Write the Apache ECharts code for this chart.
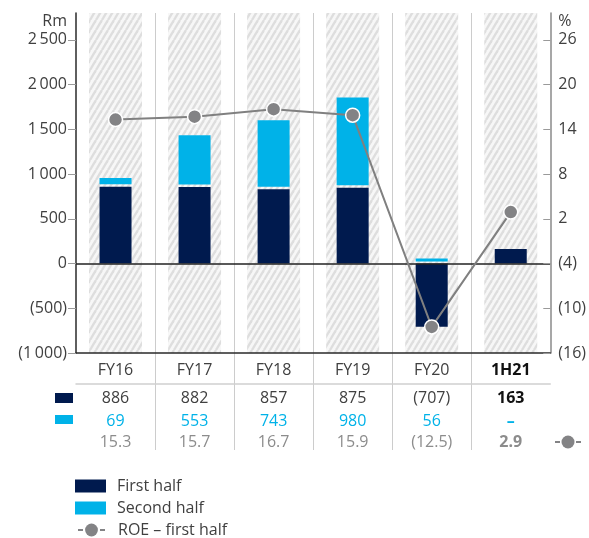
<!DOCTYPE html>
<html><head><meta charset="utf-8">
<script src="https://cdn.jsdelivr.net/npm/echarts@6/dist/echarts.min.js"></script>
<style>html,body{margin:0;padding:0;background:#fff}#c{width:589px;height:538px}</style>
</head><body><div id="c"></div>
<script>
const categories = ['FY16', 'FY17', 'FY18', 'FY19', 'FY20', '1H21'];
const firstHalf = [886, 882, 857, 875, -707, 163];
const secondHalf = [69, 553, 743, 980, 56, null];
const roe = [15.3, 15.7, 16.7, 15.9, -12.5, 2.9];
const leftTicks = [-1000, -500, 0, 500, 1000, 1500, 2000, 2500];
const rightTicks = [-16, -10, -4, 2, 8, 14, 20, 26];
const leftRange = [-1000, 2800];
const rightRange = [-16, 29.6];

const FONT = '"Open Sans", sans-serif';
const NAVY = '#001A4E', CYAN = '#00B2E8', GREY = '#838385', TXT = '#404040';
const BAR_W = 32;

function hatch() {
  const w = 6, h = 10;
  const c = document.createElement('canvas'); c.width = w; c.height = h;
  const g = c.getContext('2d');
  g.fillStyle = '#f7f7f7'; g.fillRect(0, 0, w, h);
  g.strokeStyle = '#dedede'; g.lineWidth = 2.4;
  for (let k = -1; k <= 1; k++) { g.beginPath(); g.moveTo(k * w, h); g.lineTo(k * w + w, 0); g.stroke(); }
  return c;
}
const hatchFill = { image: hatch(), repeat: 'repeat' };

const fmtThousands = v => { const s = String(Math.abs(v)); return s.length > 3 ? s.slice(0, s.length - 3) + '\u2009' + s.slice(-3) : s; };
const fmtLeft = v => v < 0 ? '(' + fmtThousands(v) + ')' : fmtThousands(v);
const fmtRight = v => v < 0 ? '(' + Math.abs(v) + ')' : String(v);
const fmtNum = v => v < 0 ? '(' + Math.abs(v) + ')' : String(v);

const row1 = firstHalf.map(fmtNum);
const row2 = secondHalf.map(v => v == null ? '–' : fmtNum(v));
const row3 = roe.map(v => v < 0 ? '(' + Math.abs(v).toFixed(1) + ')' : v.toFixed(1));

function rowAxis(offset, texts, color, boldColor) {
  return {
    type: 'category', data: categories, gridIndex: 0, position: 'bottom', offset: offset,
    axisLine: { show: false }, axisTick: { show: false }, splitLine: { show: false },
    axisLabel: {
      interval: 0, margin: 9, color: color, fontSize: 16, fontFamily: FONT,
      formatter: (v, i) => i === texts.length - 1 ? '{b|' + texts[i] + '}' : texts[i],
      rich: { b: { fontWeight: 'bold', color: boldColor, fontSize: 16, fontFamily: FONT } }
    }
  };
}

function renderFirst(params, api) {
  const i = api.value(0), v = api.value(1);
  const p0 = api.coord([i, 0]), p1 = api.coord([i, v]);
  let y0 = Math.min(p0[1], p1[1]), y1 = Math.max(p0[1], p1[1]);
  if (v > 0 && secondHalf[i] != null) y0 += 2.5;
  return { type: 'rect', shape: { x: p0[0] - BAR_W / 2, y: y0, width: BAR_W, height: y1 - y0 }, style: { fill: NAVY } };
}
function renderSecond(params, api) {
  const i = api.value(0), base = api.value(1), v = api.value(2);
  const p0 = api.coord([i, base]), p1 = api.coord([i, base + v]);
  let y0 = Math.min(p0[1], p1[1]), y1 = Math.max(p0[1], p1[1]);
  if (base === 0) y1 -= 2;
  return { type: 'rect', shape: { x: p0[0] - BAR_W / 2, y: y0, width: BAR_W, height: y1 - y0 }, style: { fill: CYAN } };
}
const firstData = firstHalf.map((v, i) => [i, v]);
const secondData = secondHalf.map((v, i) => v == null ? null : [i, firstHalf[i] > 0 ? firstHalf[i] : 0, v]).filter(d => d);

const chart = echarts.init(document.getElementById('c'), null, { renderer: 'canvas' });
const option = {
  animation: false,
  grid: { left: 76, right: 37, top: 13, bottom: 185, containLabel: false },
  xAxis: [
    {
      type: 'category', data: categories, gridIndex: 0, position: 'bottom', z: 10,
      axisLine: { onZero: false, lineStyle: { color: '#2a2a2a', width: 1.5 } },
      axisTick: { show: false }, splitLine: { show: false },
      axisLabel: {
        interval: 0, margin: 9, color: TXT, fontSize: 16, fontFamily: FONT,
        formatter: (v, i) => i === categories.length - 1 ? '{b|' + v + '}' : v,
        rich: { b: { fontWeight: 'bold', color: '#111', fontSize: 16, fontFamily: FONT } }
      }
    },
    { type: 'category', data: categories, gridIndex: 0, show: false },
    {
      type: 'category', data: categories, gridIndex: 0, position: 'bottom', offset: 31,
      axisLine: { show: true, onZero: false, lineStyle: { color: '#d0d0d0', width: 1.5 } },
      axisTick: { show: false }, axisLabel: { show: false }, splitLine: { show: false }
    },
    rowAxis(28, row1, TXT, '#111'),
    rowAxis(51, row2, CYAN, CYAN),
    rowAxis(72, row3, '#8c8c8c', '#8c8c8c')
  ],
  yAxis: [
    {
      type: 'value', min: leftRange[0], max: leftRange[1], position: 'left', z: 10,
      name: 'Rm', nameLocation: 'end', nameGap: 0,
      nameTextStyle: { align: 'right', verticalAlign: 'top', padding: [0, 9, 0, 0], color: TXT, fontSize: 16, fontFamily: FONT },
      axisLine: { show: true, lineStyle: { color: '#2a2a2a', width: 1.5 } },
      axisTick: { show: true, inside: false, length: 8, customValues: leftTicks, lineStyle: { color: '#9a9a9a' } },
      axisLabel: { margin: 9, color: TXT, fontSize: 16, fontFamily: FONT, customValues: leftTicks, formatter: fmtLeft },
      splitLine: { show: false }
    },
    {
      type: 'value', min: rightRange[0], max: rightRange[1], position: 'right', z: 10,
      name: '%', nameLocation: 'end', nameGap: 0,
      nameTextStyle: { align: 'left', verticalAlign: 'top', padding: [0, 0, 0, 8], color: TXT, fontSize: 16, fontFamily: FONT },
      axisLine: { show: true, lineStyle: { color: '#8a8a8a', width: 1.5 } },
      axisTick: { show: true, inside: true, length: 7, customValues: rightTicks, lineStyle: { color: '#9a9a9a' } },
      axisLabel: { margin: 8, color: TXT, fontSize: 16, fontFamily: FONT, customValues: rightTicks, formatter: fmtRight },
      splitLine: { show: false }
    }
  ],
  legend: [
    {
      orient: 'vertical', left: 75, top: 478, padding: 0, itemWidth: 31, itemHeight: 13, itemGap: 6,
      textStyle: { color: TXT, fontSize: 16, fontFamily: FONT, padding: [0, 0, 0, 6] },
      selectedMode: false,
      data: [{ name: 'First half', icon: 'rect' }, { name: 'Second half', icon: 'rect' }]
    },
    {
      orient: 'vertical', left: 77, top: 522, padding: 0, itemWidth: 27, itemHeight: 16,
      textStyle: { color: TXT, fontSize: 16, fontFamily: FONT, padding: [0, 0, 0, 8] },
      selectedMode: false,
      data: [{ name: 'ROE – first half' }],
      lineStyle: { color: GREY, width: 2, type: [5, 17] },
      itemStyle: { color: GREY, borderWidth: 0 }
    }
  ],
  series: [
    { name: 'bgPos', type: 'bar', xAxisIndex: 1, yAxisIndex: 0, stack: 'bg', barWidth: 53, silent: true, z: 0,
      data: categories.map(() => leftRange[1]), itemStyle: { color: hatchFill } },
    { name: 'bgNeg', type: 'bar', xAxisIndex: 1, yAxisIndex: 0, stack: 'bg', barWidth: 53, silent: true, z: 0,
      data: categories.map(() => leftRange[0]), itemStyle: { color: hatchFill } },
    { name: 'First half', type: 'custom', xAxisIndex: 0, yAxisIndex: 0, z: 2,
      renderItem: renderFirst, data: firstData, encode: { x: 0, y: 1 }, itemStyle: { color: NAVY } },
    { name: 'Second half', type: 'custom', xAxisIndex: 0, yAxisIndex: 0, z: 2,
      renderItem: renderSecond, data: secondData, encode: { x: 0, y: [1, 2] }, itemStyle: { color: CYAN },
      markLine: { silent: true, symbol: ['none', 'none'], label: { show: false }, z: 3,
        lineStyle: { color: '#222', width: 1.5, type: 'solid' }, data: [{ yAxis: 0 }] } },
    { name: 'ROE – first half', type: 'line', xAxisIndex: 0, yAxisIndex: 1, z: 5,
      data: roe, symbol: 'circle', symbolSize: 14,
      lineStyle: { color: '#808080', width: 2 },
      itemStyle: { color: GREY, borderColor: '#fff', borderWidth: 1.5 } }
  ]
};
chart.setOption(option);

const px = categories.map(c => chart.convertToPixel({ xAxisIndex: 0 }, c));
const graphics = [];
for (let i = 1; i < categories.length; i++) {
  const x = Math.round((px[i - 1] + px[i]) / 2) + 0.5;
  graphics.push({ type: 'line', z: -1, silent: true, shape: { x1: x, y1: 13, x2: x, y2: 450 }, style: { stroke: '#cccccc', lineWidth: 1 } });
}
graphics.push({ type: 'rect', shape: { x: 55, y: 393, width: 18, height: 10 }, style: { fill: NAVY } });
graphics.push({ type: 'rect', shape: { x: 55, y: 415, width: 18, height: 9 }, style: { fill: CYAN } });
graphics.push({ type: 'rect', shape: { x: 555, y: 441, width: 5, height: 2 }, style: { fill: GREY } });
graphics.push({ type: 'circle', shape: { cx: 568, cy: 442, r: 6.5 }, style: { fill: GREY } });
graphics.push({ type: 'rect', shape: { x: 576, y: 441, width: 5, height: 2 }, style: { fill: GREY } });
chart.setOption({ graphic: graphics });
</script></body></html>
